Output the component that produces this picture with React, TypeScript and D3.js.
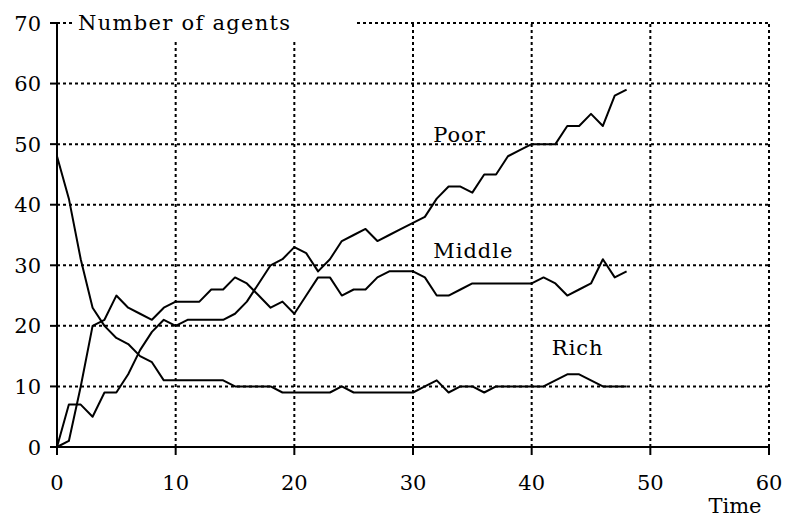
import React from 'react';
import * as d3 from 'd3';

const times = d3.range(0, 49);
const poor = [0, 7, 7, 5, 9, 9, 12, 16, 19, 21, 20, 21, 21, 21, 21, 22, 24, 27, 30, 31, 33, 32, 29, 31, 34, 35, 36, 34, 35, 36, 37, 38, 41, 43, 43, 42, 45, 45, 48, 49, 50, 50, 50, 53, 53, 55, 53, 58, 59];
const middle = [0, 1, 10, 20, 21, 25, 23, 22, 21, 23, 24, 24, 24, 26, 26, 28, 27, 25, 23, 24, 22, 25, 28, 28, 25, 26, 26, 28, 29, 29, 29, 28, 25, 25, 26, 27, 27, 27, 27, 27, 27, 28, 27, 25, 26, 27, 31, 28, 29];
const rich = [48, 41, 31, 23, 20, 18, 17, 15, 14, 11, 11, 11, 11, 11, 11, 10, 10, 10, 10, 9, 9, 9, 9, 9, 10, 9, 9, 9, 9, 9, 9, 10, 11, 9, 10, 10, 9, 10, 10, 10, 10, 10, 11, 12, 12, 11, 10, 10, 10];
const xTicks = [0, 10, 20, 30, 40, 50, 60];
const yTicks = [0, 10, 20, 30, 40, 50, 60, 70];
const seriesLabels = [
  { name: 'Poor', t: 31.7, v: 50.4 },
  { name: 'Middle', t: 31.7, v: 31.2 },
  { name: 'Rich', t: 41.7, v: 15.2 },
];

const font = '"DejaVu Serif", serif';
const fs = 21;

export default function App() {
  const x = d3.scaleLinear().domain([0, 60]).range([57, 769]);
  const y = d3.scaleLinear().domain([0, 70]).range([447, 23]);
  const line = d3.line<number>().x((_, i) => x(times[i])).y(d => y(d));
  const series = [poor, middle, rich];

  return (
    <svg width={787} height={520} style={{ position: 'absolute', left: 0, top: 0, background: '#fff' }}>
      {/* grid */}
      <g stroke="#000" strokeWidth={2} strokeDasharray="3,3">
        {yTicks.filter(v => v > 0).map(v => (
          <line key={'gy' + v} x1={x(0)} x2={x(60)} y1={y(v)} y2={y(v)} />
        ))}
        {xTicks.filter(t => t > 0).map(t => (
          <line key={'gx' + t} x1={x(t)} x2={x(t)} y1={y(0)} y2={y(70)} />
        ))}
      </g>
      {/* axis title box covering grid */}
      <rect x={75} y={6} width={281} height={33} fill="#fff" />
      <text x={78} y={30} fontFamily={font} fontSize={fs} letterSpacing={1.3}>Number of agents</text>
      {/* axes */}
      <g stroke="#000" strokeWidth={2}>
        <line x1={x(0)} x2={x(0)} y1={y(70)} y2={y(0)} />
        <line x1={x(0)} x2={x(60)} y1={y(0)} y2={y(0)} />
        {yTicks.map(v => (
          <line key={'ty' + v} x1={x(0) - 7} x2={x(0)} y1={y(v)} y2={y(v)} />
        ))}
        {xTicks.map(t => (
          <line key={'tx' + t} x1={x(t)} x2={x(t)} y1={y(0)} y2={y(0) + 8} />
        ))}
      </g>
      {yTicks.map(v => (
        <text key={'ly' + v} x={41} y={y(v)} dy="0.36em" textAnchor="end" fontFamily={font} fontSize={fs}>{v}</text>
      ))}
      {xTicks.map(t => (
        <text key={'lx' + t} x={x(t)} y={y(0) + 43} textAnchor="middle" fontFamily={font} fontSize={fs}>{t}</text>
      ))}
      <text x={735} y={513} textAnchor="middle" fontFamily={font} fontSize={fs}>Time</text>
      {/* series */}
      {series.map((s, i) => (
        <path key={i} d={line(s) || ''} fill="none" stroke="#000" strokeWidth={2} strokeLinejoin="round" />
      ))}
      {seriesLabels.map(l => (
        <text key={l.name} x={x(l.t)} y={y(l.v)} fontFamily={font} fontSize={fs} letterSpacing={1}>{l.name}</text>
      ))}
    </svg>
  );
}
